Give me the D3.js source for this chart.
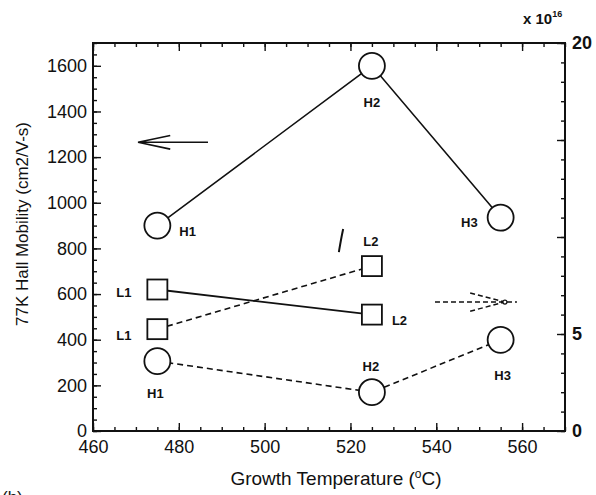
<!DOCTYPE html>
<html>
<head>
<meta charset="utf-8">
<script src="https://cdn.jsdelivr.net/npm/d3@7"></script>
<style>
  html, body { margin: 0; padding: 0; background: #fff; }
  svg { display: block; font-family: "Liberation Sans", Arial, Helvetica, sans-serif; }
</style>
</head>
<body>
<div id="chart"></div>
<script>
// growth temperatures (deg C)
const temps = [475, 525, 555];
// 77K Hall mobility, solid lines (left axis)
const mobilityH = [900, 1600, 935];
const mobilityL = [620, 510];
// carrier density x1e16, dashed lines (right axis)
const densityH = [3.6, 2.0, 4.7];
const densityL = [5.25, 8.5];
const labelsH = ["H1", "H2", "H3"];
const labelsL = ["L1", "L2"];

const xTicks = [460, 480, 500, 520, 540, 560];
const yTicks = [0, 200, 400, 600, 800, 1000, 1200, 1400, 1600];
const y2Ticks = [0, 5, 10, 15, 20];
const y2Labels = [0, 5, 20];

// annotation arrows, in data units (temperature, mobility)
const arrowLeft = { from: [486.8, 1265], to: [470.5, 1265], barb: [478, 30] };
const arrowRight = { from: [539.7, 565], to: [558.8, 565], tip: 556, barb: [547.9, 40] };
const penMark = [[517.3, 784], [517.8, 840], [518.3, 885]];

const width = 596;
const height = 495;
const margin = { top: 43, right: 31, bottom: 64, left: 93 };
const ink = "#111";

const svg = d3.select("#chart")
  .append("svg")
  .attr("width", width)
  .attr("height", height)
  .style("background", "#fff");

const x = d3.scaleLinear().domain([460, 570]).range([margin.left, width - margin.right]);
const y = d3.scaleLinear().domain([0, 1700]).range([height - margin.bottom, margin.top]);
const y2 = d3.scaleLinear().domain([0, 20]).range([height - margin.bottom, margin.top]);

const x0 = margin.left, x1 = width - margin.right;
const yb = height - margin.bottom, yt = margin.top;

function styleAxis(g, size) {
  g.select(".domain").remove();
  g.selectAll(".tick line").attr("stroke", ink).attr("stroke-width", 1.4);
  g.selectAll(".tick text")
    .attr("fill", ink)
    .style("font-size", size + "px")
    .style("font-family", "'Liberation Sans', Arial, sans-serif");
}

// minor ticks
svg.append("g").attr("transform", `translate(0,${yb})`)
  .call(d3.axisBottom(x).ticks(22).tickSize(-4).tickFormat(""))
  .call(g => styleAxis(g, 0));
svg.append("g").attr("transform", `translate(0,${yt})`)
  .call(d3.axisTop(x).ticks(22).tickSize(-4).tickFormat(""))
  .call(g => styleAxis(g, 0));
svg.append("g").attr("transform", `translate(${x0},0)`)
  .call(d3.axisLeft(y).tickValues(d3.range(0, 1701, 50)).tickSize(-4).tickFormat(""))
  .call(g => styleAxis(g, 0));
svg.append("g").attr("transform", `translate(${x1},0)`)
  .call(d3.axisRight(y2).tickValues(d3.range(0, 21, 1)).tickSize(-4).tickFormat(""))
  .call(g => styleAxis(g, 0));

// major ticks + labels
svg.append("g").attr("transform", `translate(0,${yb})`)
  .call(d3.axisBottom(x).tickValues(xTicks).tickSize(-8).tickPadding(9).tickFormat(d3.format("d")))
  .call(g => styleAxis(g, 18));
svg.append("g").attr("transform", `translate(0,${yt})`)
  .call(d3.axisTop(x).tickValues(xTicks).tickSize(-8).tickFormat(""))
  .call(g => styleAxis(g, 0));
svg.append("g").attr("transform", `translate(${x0},0)`)
  .call(d3.axisLeft(y).tickValues(yTicks).tickSize(-8).tickPadding(6).tickFormat(d3.format("d")))
  .call(g => styleAxis(g, 18));
svg.append("g").attr("transform", `translate(${x1},0)`)
  .call(d3.axisRight(y2).tickValues(y2Ticks).tickSize(-8).tickPadding(7)
    .tickFormat(d => y2Labels.includes(d) ? d : ""))
  .call(g => styleAxis(g, 18))
  .call(g => g.selectAll(".tick text").style("font-weight", "bold"));

// frame
svg.append("rect")
  .attr("x", x0).attr("y", yt)
  .attr("width", x1 - x0).attr("height", yb - yt)
  .attr("fill", "none").attr("stroke", ink).attr("stroke-width", 2);

// axis titles
svg.append("text")
  .attr("transform", `translate(28,224) rotate(-90)`)
  .attr("text-anchor", "middle")
  .attr("fill", ink)
  .style("font-size", "17px")
  .text("77K Hall Mobility (cm2/V-s)");

const xt = svg.append("text")
  .attr("x", 336).attr("y", 485)
  .attr("text-anchor", "middle")
  .attr("fill", ink)
  .style("font-size", "19px");
xt.append("tspan").text("Growth Temperature (");
xt.append("tspan").attr("dy", -7).style("font-size", "12px").text("o");
xt.append("tspan").attr("dy", 7).text("C)");

const ex = svg.append("text")
  .attr("x", 523).attr("y", 24)
  .attr("fill", ink)
  .style("font-size", "15px")
  .style("font-weight", "bold");
ex.append("tspan").text("x 10");
ex.append("tspan").attr("dy", -7).style("font-size", "9px").text("16");

svg.append("text")
  .attr("x", 2).attr("y", 503)
  .attr("fill", ink)
  .style("font-size", "17px")
  .text("(b)");

// series
const solidLine = d3.line().x(d => x(d[0])).y(d => y(d[1]));
const dashLine = d3.line().x(d => x(d[0])).y(d => y2(d[1]));

const hSolid = temps.map((t, i) => [t, mobilityH[i]]);
const lSolid = temps.slice(0, 2).map((t, i) => [t, mobilityL[i]]);
const hDash = temps.map((t, i) => [t, densityH[i]]);
const lDash = temps.slice(0, 2).map((t, i) => [t, densityL[i]]);

svg.append("path").attr("d", solidLine(hSolid))
  .attr("fill", "none").attr("stroke", ink).attr("stroke-width", 1.6);
svg.append("path").attr("d", solidLine(lSolid))
  .attr("fill", "none").attr("stroke", ink).attr("stroke-width", 1.8);
svg.append("path").attr("d", dashLine(hDash))
  .attr("fill", "none").attr("stroke", ink).attr("stroke-width", 1.6)
  .attr("stroke-dasharray", "6,4");
svg.append("path").attr("d", dashLine(lDash))
  .attr("fill", "none").attr("stroke", ink).attr("stroke-width", 1.6)
  .attr("stroke-dasharray", "6,4");

function circles(data, sy) {
  svg.selectAll(null).data(data).enter().append("circle")
    .attr("cx", d => x(d[0])).attr("cy", d => sy(d[1]))
    .attr("r", 13)
    .attr("fill", "#fff").attr("stroke", ink).attr("stroke-width", 1.8);
}
function squares(data, sy) {
  svg.selectAll(null).data(data).enter().append("rect")
    .attr("x", d => x(d[0]) - 10).attr("y", d => sy(d[1]) - 10)
    .attr("width", 20).attr("height", 20)
    .attr("fill", "#fff").attr("stroke", ink).attr("stroke-width", 1.8);
}
circles(hSolid, y);
circles(hDash, y2);
squares(lSolid, y);
squares(lDash, y2);

// point labels: [dx, dy, anchor]
function labels(data, sy, names, offs) {
  svg.selectAll(null).data(data).enter().append("text")
    .attr("x", (d, i) => x(d[0]) + offs[i][0])
    .attr("y", (d, i) => sy(d[1]) + offs[i][1])
    .attr("dy", "0.35em")
    .attr("text-anchor", (d, i) => offs[i][2])
    .attr("fill", ink)
    .style("font-size", "13px")
    .style("font-weight", "bold")
    .text((d, i) => names[i]);
}
labels(hSolid, y, labelsH, [[22, 6, "start"], [0, 37, "middle"], [-23, 5, "end"]]);
labels(hDash, y2, labelsH, [[-2, 32, "middle"], [-1, -26, "middle"], [2, 36, "middle"]]);
labels(lSolid, y, labelsL, [[-26, 3, "end"], [20, 6, "start"]]);
labels(lDash, y2, labelsL, [[-26, 6, "end"], [-1, -25, "middle"]]);

// arrows
const aL = arrowLeft;
svg.append("path")
  .attr("d", `M${x(aL.from[0])},${y(aL.from[1])}L${x(aL.to[0])},${y(aL.to[1])}` +
    `M${x(aL.barb[0])},${y(aL.to[1] + aL.barb[1])}L${x(aL.to[0])},${y(aL.to[1])}` +
    `L${x(aL.barb[0])},${y(aL.to[1] - aL.barb[1])}`)
  .attr("fill", "none").attr("stroke", ink).attr("stroke-width", 1.6);

const aR = arrowRight;
svg.append("path")
  .attr("d", `M${x(aR.from[0])},${y(aR.from[1])}L${x(aR.to[0])},${y(aR.to[1])}` +
    `M${x(aR.barb[0])},${y(aR.to[1] + aR.barb[1])}L${x(aR.tip)},${y(aR.to[1])}` +
    `M${x(aR.barb[0])},${y(aR.to[1] - aR.barb[1])}L${x(aR.tip)},${y(aR.to[1])}`)
  .attr("fill", "none").attr("stroke", ink).attr("stroke-width", 1.5)
  .attr("stroke-dasharray", "5,3");
svg.append("circle")
  .attr("cx", x(aR.tip)).attr("cy", y(aR.to[1])).attr("r", 2)
  .attr("fill", "#fff").attr("stroke", ink).attr("stroke-width", 1.2);

// pen mark
svg.append("path")
  .attr("d", d3.line().curve(d3.curveBasis).x(d => x(d[0])).y(d => y(d[1]))(penMark))
  .attr("fill", "none").attr("stroke", ink).attr("stroke-width", 2);
</script>
</body>
</html>
